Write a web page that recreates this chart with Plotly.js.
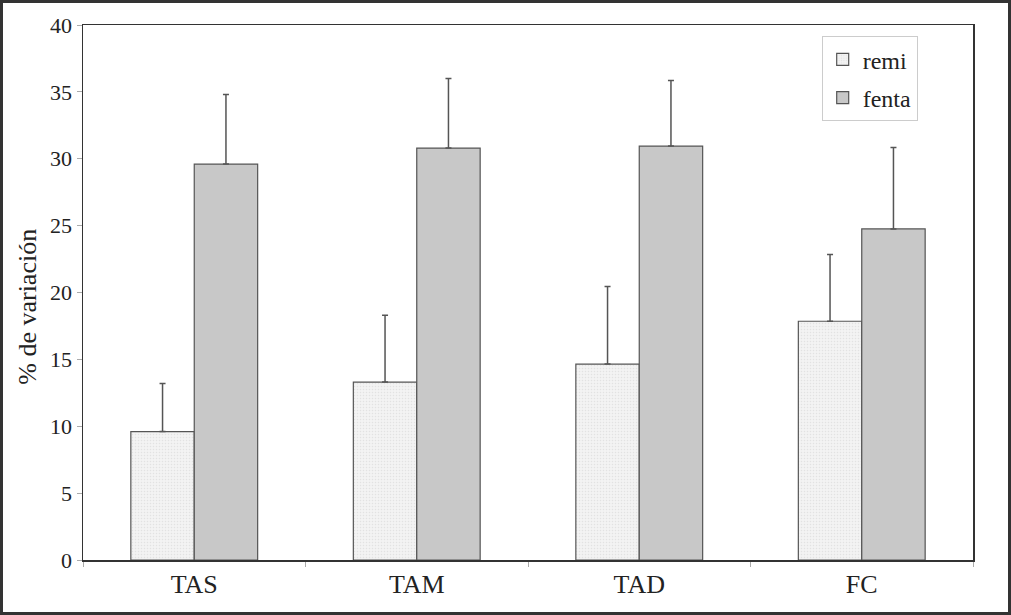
<!DOCTYPE html>
<html>
<head>
<meta charset="utf-8">
<script src="https://cdn.plot.ly/plotly-3.0.1.min.js"></script>
<style>
html,body{margin:0;padding:0;background:#fff;}
#wrap{position:relative;width:1011px;height:615px;}
#chart{width:1011px;height:615px;}
#frame{position:absolute;left:0;top:0;width:1011px;height:615px;box-sizing:border-box;border:3px solid #333;pointer-events:none;}
</style>
</head>
<body>
<div id="wrap"><div id="chart"></div><div id="frame"></div></div>
<script>
var categories = ["TAS", "TAM", "TAD", "FC"];
var remiValues = [9.6, 13.3, 14.65, 17.85];
var remiErrors = [3.6, 5.0, 5.8, 5.0];
var fentaValues = [29.6, 30.8, 30.95, 24.75];
var fentaErrors = [5.2, 5.2, 4.9, 6.1];
var yTicks = [0, 5, 10, 15, 20, 25, 30, 35, 40];
var yTitle = "% de variación";

var font = "'Liberation Serif', 'Times New Roman', serif";

var traces = [
  {
    type: "bar", name: "remi", x: categories, y: remiValues,
    legendgroup: "a",
    marker: {color: "#f2f2f2", line: {color: "#555", width: 1.2},
      pattern: {shape: ".", bgcolor: "#f3f3f3", fgcolor: "#e2e2e2", size: 3, solidity: 0.2}},
    error_y: {type: "data", symmetric: false, array: remiErrors, arrayminus: [0,0,0,0],
      color: "#555", thickness: 1.5, width: 3}
  },
  {
    type: "bar", name: "fenta", x: categories, y: fentaValues,
    legendgroup: "b",
    marker: {color: "#c8c8c8", line: {color: "#555", width: 1.2}},
    error_y: {type: "data", symmetric: false, array: fentaErrors, arrayminus: [0,0,0,0],
      color: "#555", thickness: 1.5, width: 3}
  }
];

var layout = {
  width: 1011, height: 615,
  margin: {l: 83, r: 38, t: 25, b: 55},
  paper_bgcolor: "#fff", plot_bgcolor: "#fff",
  barmode: "group", bargap: 0.43, bargroupgap: 0,
  font: {family: font, color: "#222"},
  showlegend: true,
  legend: {x: 0.83, y: 0.979, xanchor: "left", yanchor: "top",
    bordercolor: "#ccc", borderwidth: 1, bgcolor: "#fff",
    font: {family: font, size: 24, color: "#222"},
    traceorder: "grouped", tracegroupgap: 4, itemwidth: 30},
  xaxis: {
    type: "category", showline: true, linecolor: "#333", linewidth: 1.5, mirror: true,
    ticks: "outside", tickson: "boundaries", ticklen: 5, tickcolor: "#aaa",
    tickfont: {family: font, size: 26, color: "#222"}, showgrid: false
  },
  yaxis: {
    range: [0, 40], tickvals: yTicks, ticktext: yTicks.map(String),
    showline: true, linecolor: "#333", linewidth: 1.5, mirror: true,
    ticks: "outside", ticklen: 5, tickcolor: "#aaa",
    tickfont: {family: font, size: 22, color: "#222"}, showgrid: false, zeroline: false
  },
  annotations: [{
    text: yTitle, xref: "paper", yref: "paper", x: -0.062, y: 0.473,
    xanchor: "center", yanchor: "middle", textangle: -90, showarrow: false,
    font: {family: font, size: 26, color: "#222"}
  }]
};

Plotly.newPlot("chart", traces, layout, {displayModeBar: false, staticPlot: true});
</script>
</body>
</html>
